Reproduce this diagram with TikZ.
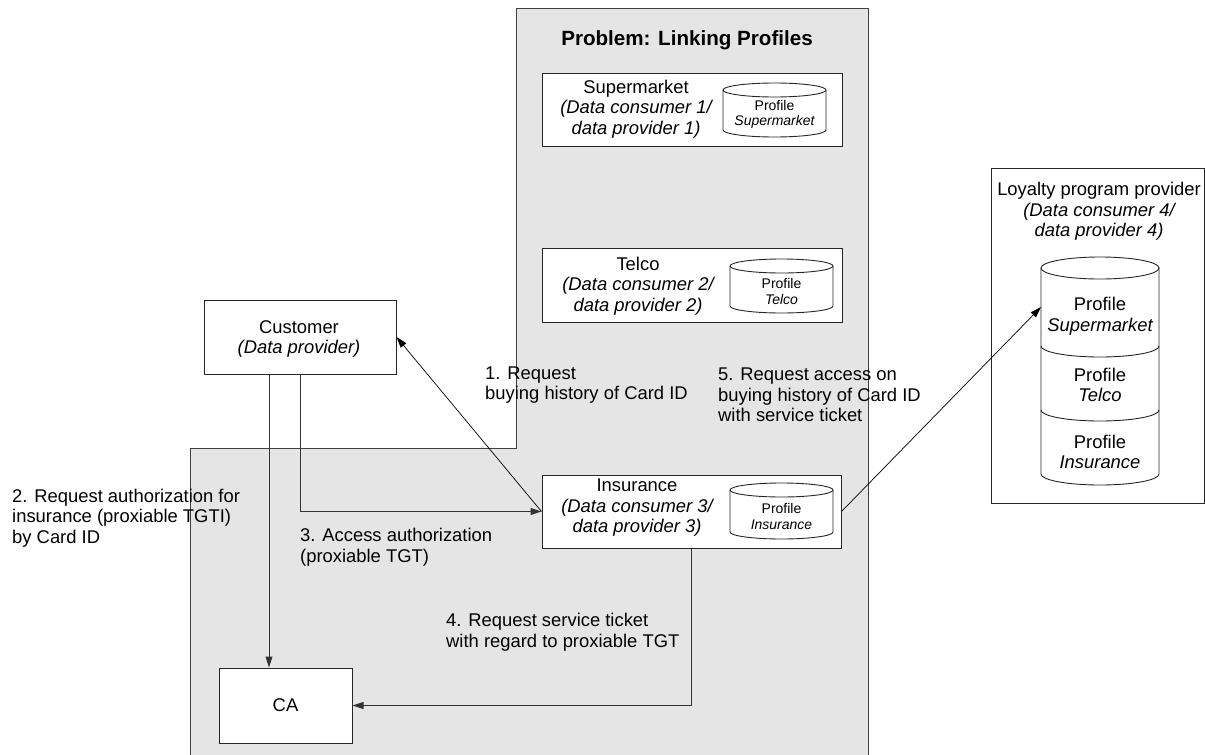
\documentclass[tikz,border=0pt]{standalone}
\usepackage{fontspec}
\setmainfont{Liberation Sans}
\usetikzlibrary{arrows.meta}
\newcommand\txtnormal{\fontsize{18.4}{20.5}\selectfont}
\newcommand\txtsmall{\fontsize{14}{15.5}\selectfont}
\newcommand\txttitle{\fontsize{20.6}{24}\selectfont\bfseries}

\begin{document}
\begin{tikzpicture}[x=1pt,y=1pt,
  box/.style={draw=black!85, line width=1pt, fill=white, inner sep=0pt},
  lbl/.style={inner sep=0pt, font=\txtnormal},
  lblleft/.style={lbl, align=left, anchor=west},
  lblmid/.style={lbl, align=center},
  cyltext/.style={inner sep=0pt, font=\txtsmall, align=center},
  cyl/.style={draw=black!85, line width=0.9pt},
  conn/.style={draw=black!80, line width=1pt},
  arr/.style={conn, -{Triangle[length=11pt,width=7pt]}},
  thinarr/.style={draw=black, line width=0.7pt, -{Triangle[length=11pt,width=7pt]}},
]
\useasboundingbox (0,0) rectangle (1205,-755);

% shaded area of the linking problem
\path[fill=gray!20, draw=black!75, line width=1pt]
  (516,-8) -- (868,-8) -- (868,-762) -- (190,-762) -- (190,-448) -- (516,-448) -- cycle;
\node[inner sep=0pt, font=\txttitle] (title) at (687,-40) {Problem: Linking Profiles};

% parties
\node[box, minimum width=300pt, minimum height=73pt] (sup) at (692,-109.5) {};
\node[box, minimum width=300pt, minimum height=74pt] (tel) at (692,-285) {};
\node[box, minimum width=299pt, minimum height=73pt] (ins) at (691.5,-511.5) {};
\node[box, minimum width=192pt, minimum height=74pt] (cust) at (300,-337) {};
\node[box, minimum width=133pt, minimum height=75pt] (ca) at (285.5,-705.5) {};
\node[box, minimum width=213pt, minimum height=335pt] (loy) at (1097.5,-335.5) {};

\node[lblmid] (suptxt) at (636,-109) {Supermarket\\\itshape(Data consumer 1/\\\itshape data provider 1)};
\node[lblmid] (teltxt) at (638,-286) {Telco\\\itshape(Data consumer 2/\\\itshape data provider 2)};
\node[lblmid] (instxt) at (637,-508) {Insurance\\\itshape(Data consumer 3/\\\itshape data provider 3)};
\node[lblmid] (custtxt) at (299,-339) {Customer\\\itshape(Data provider)};
\node[lbl] (catxt) at (285.5,-705.5) {CA};
\node[lblmid] (loytxt) at (1099,-211.5) {Loyalty program provider\\\itshape(Data consumer 4/\\\itshape data provider 4)};

% profile stores
\draw[cyl] (723,-90) -- (723,-130) arc[start angle=180,end angle=360,x radius=51.5,y radius=7] -- (826,-90);
\draw[cyl] (774.5,-90) ellipse[x radius=51.5,y radius=7];
\node[cyltext] (supdb) at (774.5,-114.5) {Profile\\\itshape Supermarket};

\draw[cyl] (730,-266) -- (730,-306) arc[start angle=180,end angle=360,x radius=51.5,y radius=7] -- (833,-266);
\draw[cyl] (781.5,-266) ellipse[x radius=51.5,y radius=7];
\node[cyltext] (teldb) at (781.5,-291.5) {Profile\\\itshape Telco};

\draw[cyl] (730,-490) -- (730,-532) arc[start angle=180,end angle=360,x radius=51.5,y radius=7] -- (833,-490);
\draw[cyl] (781.5,-490) ellipse[x radius=51.5,y radius=7];
\node[cyltext] (insdb) at (781.5,-516.5) {Profile\\\itshape Insurance};

\draw[cyl] (1041,-268) -- (1041,-474) arc[start angle=180,end angle=360,x radius=59,y radius=11] -- (1159,-268);
\draw[cyl] (1100,-268) ellipse[x radius=59,y radius=11];
\draw[cyl] (1041,-346) arc[start angle=180,end angle=360,x radius=59,y radius=11];
\draw[cyl] (1041,-410) arc[start angle=180,end angle=360,x radius=59,y radius=11];
\node[lblmid] (loydb1) at (1100,-316) {Profile\\\itshape Supermarket};
\node[lblmid] (loydb2) at (1100,-385) {Profile\\\itshape Telco};
\node[lblmid] (loydb3) at (1100,-452) {Profile\\\itshape Insurance};
\coordinate (loyin) at (1041,-307);

% message labels
\node[lblleft] (m1) at (485,-385) {1. Request\\buying history of Card ID};
\node[lblleft] (m2) at (12,-518) {2. Request authorization for\\insurance (proxiable TGTI)\\by Card ID};
\node[lblleft] (m3) at (300,-547) {3. Access authorization\\(proxiable TGT)};
\node[lblleft] (m4) at (446,-632) {4. Request service ticket\\with regard to proxiable TGT};
\node[lblleft] (m5) at (718,-395) {5. Request access on\\buying history of Card ID\\with service ticket};

% message flow
\coordinate (c2) at ([xshift=-31pt]cust.south);
\draw[thinarr] (ins.west) -- (cust.east);
\draw[arr] (c2) -- (c2 |- ca.north);
\draw[arr] (cust.south) |- (ins.west);
\draw[arr] (ins.south) |- (ca.east);
\draw[thinarr] (ins.east) -- (loyin);
\end{tikzpicture}
\end{document}
